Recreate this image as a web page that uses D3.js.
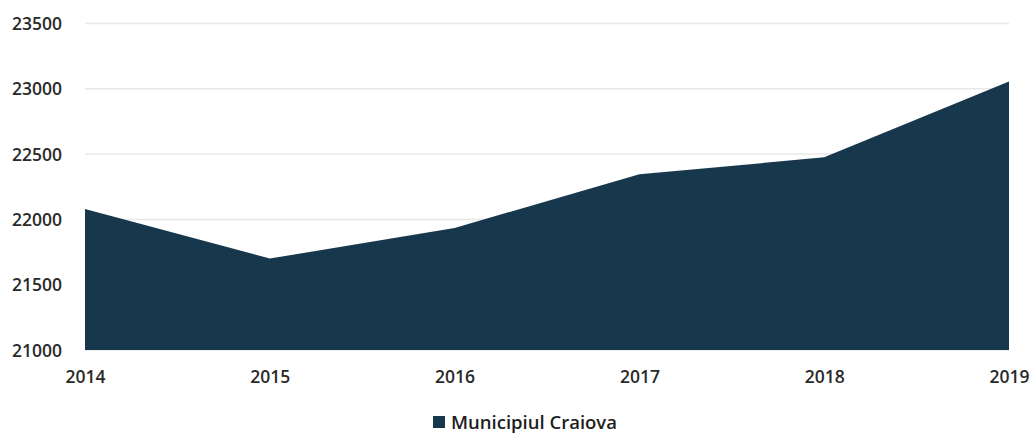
<!DOCTYPE html>
<html><head><meta charset="utf-8">
<script src="https://cdn.jsdelivr.net/npm/d3@7"></script>
<style>body{margin:0;background:#fff;}svg{display:block;}</style>
</head><body>
<svg id="chart" width="1031" height="434"></svg>
<script>
const years = ["2014","2015","2016","2017","2018","2019"];
const values = [22080, 21700, 21935, 22345, 22475, 23055];
const yTicks = [21000, 21500, 22000, 22500, 23000, 23500];
const seriesName = "Municipiul Craiova";

(function(){
const svg = d3.select("#chart");
const mLeft = 85, mRight = 1009, mTop = 23.5, mBottom = 350;
const x = d3.scalePoint().domain(years).range([mLeft, mRight]);
const y = d3.scaleLinear().domain([21000, 23500]).range([mBottom, mTop]);
const font = "'Open Sans', sans-serif";

// gridlines
svg.append("g").selectAll("line").data(yTicks).join("line")
  .attr("x1", mLeft).attr("x2", mRight)
  .attr("y1", d => y(d)).attr("y2", d => y(d))
  .attr("stroke", "#e8e8e8").attr("stroke-width", 1.5);

// area
const area = d3.area().x((d,i) => x(years[i])).y0(y(21000)).y1(d => y(d));
svg.append("path").datum(values).attr("d", area).attr("fill", "#17384c");

// y axis
const yAxis = svg.append("g").attr("transform", `translate(0,0)`)
  .call(d3.axisLeft(y).tickValues(yTicks).tickSize(0).tickFormat(d3.format("d")));
yAxis.select(".domain").remove();
yAxis.selectAll("text").attr("font-family", font).attr("font-size", 17.5)
  .attr("font-weight", 600).attr("fill", "#2a2a2a").attr("text-anchor", "start").attr("x", 12).attr("dy", "0.35em");

// x axis
const xAxis = svg.append("g").attr("transform", `translate(0,${mBottom+21})`)
  .call(d3.axisBottom(x).tickSize(0));
xAxis.select(".domain").remove();
xAxis.selectAll("text").attr("font-family", font).attr("font-size", 17.5)
  .attr("font-weight", 600).attr("fill", "#2a2a2a").attr("dy", "0.71em").attr("y", 0);

// legend
const lg = svg.append("g").attr("transform", "translate(433,416)");
lg.append("rect").attr("x", 0).attr("y", 0).attr("width", 12).attr("height", 12).attr("fill", "#17384c");
lg.append("text").attr("x", 18).attr("y", 12.5).text(seriesName)
  .attr("font-family", font).attr("font-size", 18.5).attr("font-weight", 600).attr("fill", "#1e1e1e");
})();
</script>
</body></html>
